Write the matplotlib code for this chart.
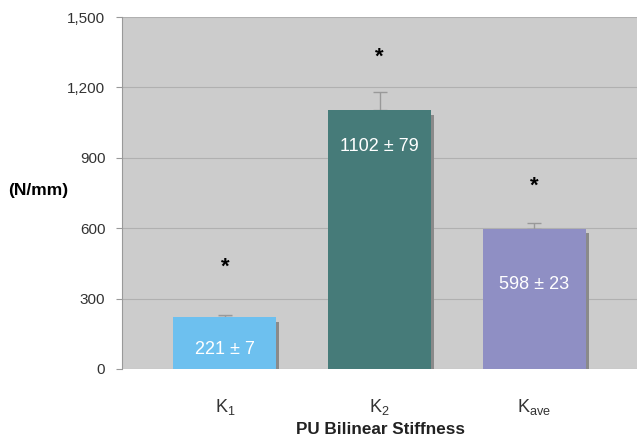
import numpy as np
import matplotlib.pyplot as plt
from matplotlib.ticker import FuncFormatter

plt.rcParams['font.family'] = ['Liberation Sans', 'DejaVu Sans']
plt.rcParams['mathtext.default'] = 'regular'

# Data
categories = ['K$_{1}$', 'K$_{2}$', 'K$_{ave}$']
means = [221, 1102, 598]
errors = [7, 79, 23]
bar_labels = ['221 ± 7', '1102 ± 79', '598 ± 23']
label_heights = [85, 950, 362]
star_heights = [435, 1330, 780]
colors = ['#6dc0ef', '#467b79', '#8f8fc4']

fig = plt.figure(figsize=(6.38, 4.38), dpi=100)
ax = fig.add_axes([122 / 638, 1 - 369 / 438, (637 - 122) / 638, (369 - 17) / 438])
ax.set_facecolor('#cccccc')

x = np.arange(len(categories))
width = 0.665

# shadow behind bars
ax.bar(x + 0.02, np.array(means) - 20, width, bottom=0, color='#8a8a8a', zorder=2)
ax.bar(x, means, width, color=colors, zorder=3)
ax.errorbar(x, means, yerr=[np.zeros(3), errors], fmt='none', ecolor='#999999',
            elinewidth=1, capsize=5, capthick=1, zorder=2.5)

for xi, txt, h in zip(x, bar_labels, label_heights):
    ax.text(xi, h, txt, color='white', ha='center', va='center', fontsize=13, zorder=4)
for xi, h in zip(x, star_heights):
    ax.text(xi, h, '*', color='black', ha='center', va='center', fontsize=16,
            fontweight='bold', zorder=4)

ax.set_ylim(0, 1500)
ax.set_xlim(-0.665, 2.665)
ax.set_yticks([0, 300, 600, 900, 1200, 1500])
ax.yaxis.set_major_formatter(FuncFormatter(lambda v, p: f'{int(v):,}'))
ax.yaxis.grid(True, color='#b0b0b0', linewidth=0.8, zorder=1)
ax.set_axisbelow(True)

for s in ['top', 'right', 'bottom']:
    ax.spines[s].set_visible(False)
ax.spines['left'].set_color('#999999')
ax.tick_params(axis='y', length=4, color='#999999', labelsize=11, labelcolor='#333333', pad=8)
ax.tick_params(axis='x', length=0, labelsize=13, labelcolor='#333333', pad=20)
ax.set_xticks(x)
ax.set_xticklabels(categories)

fig.text(8 / 638, 1 - 191 / 438, '(N/mm)', fontsize=12.5, fontweight='bold', va='center', ha='left')
fig.text(381 / 638, 1 - 430 / 438, 'PU Bilinear Stiffness', fontsize=12.3, fontweight='bold',
         va='center', ha='center', color='#222222')

fig.savefig('out.png', dpi=100)
